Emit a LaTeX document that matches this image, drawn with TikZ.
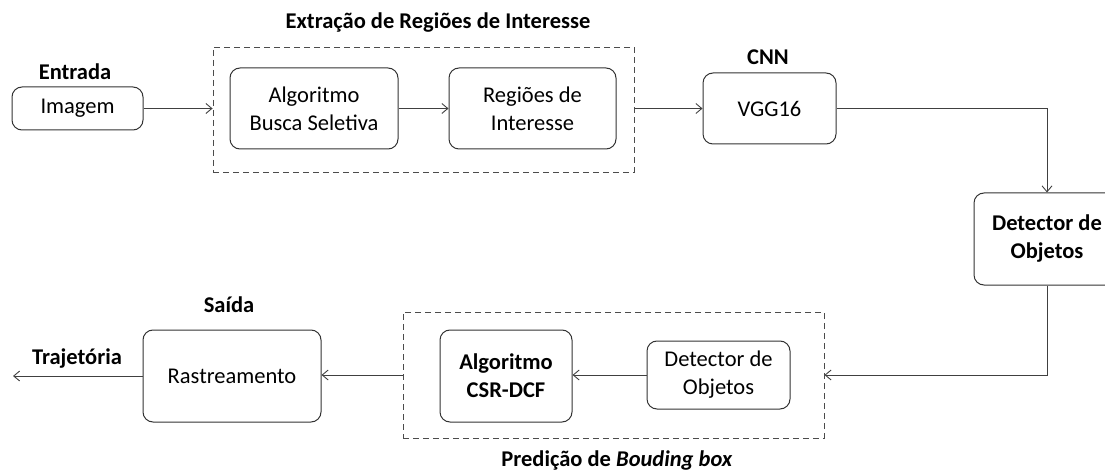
\documentclass[tikz,border=0pt]{standalone}
\usepackage{fontspec}
\setmainfont{Carlito}
\usetikzlibrary{arrows.meta}
\begin{document}
\begin{tikzpicture}[x=1pt,y=-1pt,
  line width=1pt,
  box/.style={draw=black!80, rounded corners=10pt, align=center, inner sep=0pt,
    font=\fontsize{22.5}{28}\selectfont},
  grp/.style={draw=black!70, dashed, dash pattern=on 6pt off 4pt, line width=0.9pt},
  lbl/.style={font=\bfseries\fontsize{22.5}{27}\selectfont, inner sep=0pt},
  conn/.style={draw=black!75, -{Straight Barb[length=6pt,width=10pt,line width=0.9pt]}}]
\useasboundingbox (0,0) rectangle (1105,470);
\begin{scope}
\clip (0,0) rectangle (1105,470);
% nodes
\node[box, minimum width=131pt, minimum height=43pt] (img) at (77.5,108.5) {Imagem};
\node[box, minimum width=168pt, minimum height=81pt] (abs) at (314,108.5) {Algoritmo\\Busca Seletiva};
\node[box, minimum width=167pt, minimum height=81pt] (roi) at (532.5,108.5) {Regiões de\\Interesse};
\node[box, minimum width=133pt, minimum height=71pt] (vgg) at (769.5,108.5) {VGG16};
\node[box, font=\bfseries\fontsize{22.5}{28}\selectfont, minimum width=146pt, minimum height=92pt] (det) at (1047,239) {Detector de\\Objetos};
\node[box, font=\bfseries\fontsize{22.5}{28}\selectfont, minimum width=132pt, minimum height=92pt] (csr) at (506,376) {Algoritmo\\CSR-DCF};
\node[box, minimum width=143pt, minimum height=68pt] (det2) at (718.5,375) {Detector de\\Objetos};
\node[box, minimum width=178pt, minimum height=92pt] (ras) at (232,376) {Rastreamento};
% groups
\node[grp, minimum width=421pt, minimum height=125pt, inner sep=0pt] (g1) at (423.5,109.5) {};
\node[grp, minimum width=421pt, minimum height=126pt, inner sep=0pt] (g2) at (613.5,375) {};
\coordinate (out) at (13,376);
% labels
\node[lbl] (l1) at (75,72) {Entrada};
\node[lbl] (l2) at (438,23) {Extração de Regiões de Interesse};
\node[lbl] (l3) at (768,57) {CNN};
\node[lbl] (l4) at (229,305) {Saída};
\node[lbl] (l5) at (77,359) {Trajetória};
\node[lbl] (l6) at (617,460) {Predição de \textit{Bouding box}};
% connectors
\draw[conn] (img.east) -- (img.east -| g1.west);
\draw[conn] (abs) -- (roi);
\draw[conn] (g1.east |- vgg.west) -- (vgg.west);
\draw[conn] (vgg.east) -| (det.north);
\draw[conn] (det.south) |- (g2.east);
\draw[conn] (det2.west) -- (det2.west -| csr.east);
\draw[conn] (g2.west) -- (g2.west -| ras.east);
\draw[conn] (ras.west) -- (out);
\end{scope}
\end{tikzpicture}
\end{document}
